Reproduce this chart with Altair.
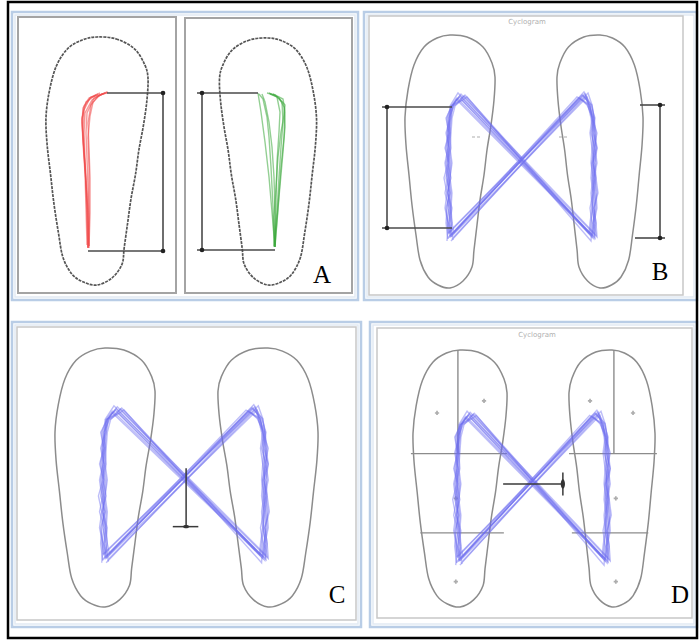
import altair as alt
import pandas as pd

# ---------------------------------------------------------------------------
# Canvas (pixel-like data space)
W, H = 700, 641

# Foot outline template: left foot, medial side toward +x, 90 wide x 253 long,
# y measured downward from the toe tip.
FOOT_X = [0, 17, 33, 42, 45, 44, 41, 37, 34, 30, 27, 24, 22, 13, 0,
          -12, -22, -30, -34, -38, -41, -44, -45, -42, -36, -26, -13]
FOOT_Y = [0, 2, 12, 28, 42, 65, 90, 115, 140, 165, 190, 215, 232, 246, 253,
          250, 242, 225, 200, 170, 140, 110, 82, 55, 30, 12, 3]
TEMPLATE_W, TEMPLATE_H = 90.0, 253.0

# Foot placements: name, toe-centre x, toe y, width, length, mirrored (right foot)
FEET = [
    ("A_left", 97, 37, 102, 248, False),
    ("A_right", 268, 38, 97, 247, True),
    ("B_left", 450, 35, 90, 253, False),
    ("B_right", 600, 35, 86, 253, True),
    ("C_left", 105, 348, 100, 259, False),
    ("C_right", 268, 348, 100, 259, True),
    ("D_left", 460, 350, 94, 257, False),
    ("D_right", 612, 350, 86, 257, True),
]

# Plantar zone boundaries for panel D (template units)
ZONE_ROWS_Y = [102, 180]
ZONE_ROWS_X0 = [-47, -38]
ZONE_ROWS_X1 = [45, 42]
ZONE_SPLIT_X = -2          # longitudinal split in the forefoot
ZONE_DOT_X = [-22, 23, -4, -4]
ZONE_DOT_Y = [62, 50, 146, 228]

# Local measurement frames: centre x, centre y, x scale, y scale (y up)
FRAMES = {
    "A_left": (88, 248, 1.0, 1.0),
    "A_right": (275, 247, 1.0, 1.0),
    "B": (522, 163, 1.0, 1.0),
    "C": (185, 480, 1.11, 1.06),
    "D": (533, 484, 1.03, 1.04),
}

# Centre-of-pressure butterfly, origin at the crossing point.
# Each cycle: left heel, left stance samples, left toe-off, right heel,
# right stance samples, right toe-off, next left heel.
STANCE_Y_L = [-60, -45, -30, -15, 0, 15, 30, 45, 57]
STANCE_Y_R = [-60, -45, -30, -15, 0, 15, 30, 45, 58]

LEFT_HEEL = [(-71, -74), (-69, -77), (-73, -71), (-72, -69), (-74, -76),
             (-70, -72), (-75, -78), (-68, -70), (-72, -75), (-71, -73)]
LEFT_STANCE_X = [
    [-73, -72, -74, -73, -75, -72, -74, -71, -70],
    [-71, -74, -72, -76, -73, -74, -72, -73, -69],
    [-75, -73, -77, -74, -76, -73, -75, -72, -71],
    [-70, -72, -71, -73, -72, -75, -73, -74, -70],
    [-76, -75, -73, -75, -77, -74, -72, -73, -68],
    [-72, -70, -74, -72, -71, -73, -76, -72, -72],
    [-74, -77, -75, -78, -74, -76, -74, -75, -71],
    [-70, -71, -70, -72, -70, -72, -71, -70, -67],
    [-74, -76, -72, -74, -73, -77, -73, -76, -70],
    [-73, -71, -75, -71, -74, -71, -72, -71, -69],
]
LEFT_TOE = [(-63, 66), (-58, 67), (-66, 64), (-61, 69), (-55, 66),
            (-64, 70), (-60, 63), (-57, 68), (-62, 67), (-65, 65)]
RIGHT_HEEL = [(70, -74), (72, -76), (68, -71), (74, -72), (69, -78),
              (71, -73), (73, -75), (67, -70), (75, -74), (70, -72)]
RIGHT_STANCE_X = [
    [71, 73, 72, 70, 72, 71, 73, 70, 68],
    [74, 72, 75, 73, 71, 74, 72, 71, 67],
    [69, 71, 70, 73, 72, 70, 71, 69, 66],
    [72, 75, 74, 72, 75, 73, 74, 72, 70],
    [70, 68, 71, 69, 70, 72, 70, 71, 65],
    [73, 70, 72, 74, 71, 75, 71, 73, 69],
    [71, 74, 73, 71, 74, 72, 75, 70, 68],
    [68, 70, 69, 71, 69, 70, 68, 70, 66],
    [74, 72, 76, 74, 73, 75, 73, 72, 70],
    [72, 71, 71, 72, 70, 73, 69, 72, 67],
]
RIGHT_TOE = [(61, 68), (64, 67), (57, 65), (66, 70), (59, 64),
             (62, 71), (55, 66), (63, 69), (60, 68), (65, 66)]
NEXT_HEEL = [(-72, -73), (-70, -76), (-73, -70), (-74, -70), (-71, -78),
             (-69, -71), (-75, -76), (-68, -69), (-72, -74), (-71, -74)]

# Single-foot COP traces (panel A), origin at heel contact, y up
LEFT_TRACES_X = [
    [0, -1, -2, -3, -4, -3, 4, 14, 19],
    [1, 0, -2, -4, -5, -4, 2, 12],
    [0, 1, 0, -1, -2, -1, 6, 17],
    [-1, -2, -3, -5, -6, -5, 3, 15],
    [1, 2, 2, 1, 0, 3, 10, 19],
    [0, -1, -3, -5, -6, -2, 8],
    [0, 0, -1, -3, -5, -6, -4, 1, 10],
    [1, 1, 1, 0, 2, 5, 12, 20],
]
LEFT_TRACES_Y = [
    [0, 30, 60, 90, 115, 135, 148, 154, 155],
    [2, 35, 65, 95, 120, 138, 150, 155],
    [0, 30, 60, 90, 115, 135, 150, 155],
    [3, 40, 75, 105, 125, 140, 151, 154],
    [0, 35, 70, 100, 125, 143, 152, 156],
    [1, 45, 80, 110, 130, 146, 153],
    [0, 25, 55, 85, 110, 128, 142, 150, 154],
    [2, 40, 80, 110, 132, 146, 153, 156],
]
RIGHT_TRACES_X = [
    [0, -3, -6, -10, -14, -17],
    [0, 0, -1, -3, -6, -10, -13],
    [-1, 2, 4, 6, 8, 7, 0, -8],
    [0, 3, 6, 9, 10, 8, -2],
    [0, 1, 2, 4, 5, 2, -6],
    [-1, -2, -4, -6, -8, -12, -16],
    [0, 4, 8, 10, 9, 4],
    [0, -1, 1, 3, 6, 9, 10, 3, -5],
]
RIGHT_TRACES_Y = [
    [0, 35, 70, 105, 135, 154],
    [1, 35, 70, 100, 125, 145, 153],
    [0, 35, 70, 100, 125, 145, 152, 154],
    [2, 40, 80, 110, 135, 148, 153],
    [0, 45, 85, 115, 135, 150, 154],
    [1, 40, 80, 110, 130, 148, 153],
    [0, 50, 95, 120, 140, 149],
    [0, 30, 60, 90, 115, 132, 142, 150, 153],
]

# Length brackets (local frame): frame, bracket x, y top, y bottom,
# inner x at top, inner x at bottom, outer x
BRACKETS = [
    ("A_left", 75, 155, -3, 19, 0, 75),
    ("A_right", -73, 154, -3, -17, 0, -78),
    ("B", -135, 56, -65, -70, -70, -140),
    ("B", 138, 58, -75, 118, 113, 143),
]

# Faint reference ticks in panel B (local frame)
B_TICK_X0 = [-50, 37]
B_TICK_X1 = [-40, 47]
B_TICK_Y = [26, 26]

# Progression markers in panels C and D (local frame)
C_MARK_X, C_MARK_Y0, C_MARK_Y1, C_BAR_X0, C_BAR_X1 = 1, 11, -44, -11, 12
D_MARK_Y, D_MARK_X0, D_MARK_X1, D_BAR_Y0, D_BAR_Y1 = 0, -29, 29, 11, -11

PANEL_LABELS = ["A", "B", "C", "D"]
PANEL_LABEL_X = [322, 660, 337, 680]
PANEL_LABEL_Y = [283, 280, 603, 603]

# ---------------------------------------------------------------------------
def place(frame, xs, ys):
    cx, cy, sx, sy = FRAMES[frame]
    return [cx + sx * x for x in xs], [cy - sy * y for y in ys]


def foot_points(cx, top, w, h, mirror, xs, ys):
    sx, sy = w / TEMPLATE_W, h / TEMPLATE_H
    sgn = -1 if mirror else 1
    return [cx + sgn * sx * x for x in xs], [top + sy * y for y in ys]


X = alt.X("x:Q", scale=alt.Scale(domain=[0, W], nice=False, zero=False), axis=None)
Y = alt.Y("y:Q", scale=alt.Scale(domain=[0, H], nice=False, zero=False, reverse=True), axis=None)
X2 = alt.X2("x2:Q")
Y2 = alt.Y2("y2:Q")

# Foot outlines
rows = []
for name, cx, top, w, h, mirror in FEET:
    xs, ys = foot_points(cx, top, w, h, mirror, FOOT_X, FOOT_Y)
    for i, (x, y) in enumerate(zip(xs, ys)):
        rows.append({"x": x, "y": y, "path": name, "ord": i, "panel": name[0]})
feet = pd.DataFrame(rows)

feet_a = alt.Chart(feet[feet.panel == "A"]).mark_line(
    interpolate="cardinal-closed", color="#555555", strokeWidth=1.7, strokeDash=[3, 1]
).encode(x=X, y=Y, detail="path:N", order="ord:Q")
feet_bcd = alt.Chart(feet[feet.panel != "A"]).mark_line(
    interpolate="cardinal-closed", color="#8c8c8c", strokeWidth=1.5
).encode(x=X, y=Y, detail="path:N", order="ord:Q")

# Panel D zones
zone_rows, dot_rows = [], []
for name, cx, top, w, h, mirror in FEET:
    if not name.startswith("D"):
        continue
    for zy, x0, x1 in zip(ZONE_ROWS_Y, ZONE_ROWS_X0, ZONE_ROWS_X1):
        xs, ys = foot_points(cx, top, w, h, mirror, [x0, x1], [zy, zy])
        zone_rows.append({"x": xs[0], "y": ys[0], "x2": xs[1], "y2": ys[1]})
    xs, ys = foot_points(cx, top, w, h, mirror, [ZONE_SPLIT_X, ZONE_SPLIT_X], [0, ZONE_ROWS_Y[0]])
    zone_rows.append({"x": xs[0], "y": ys[0], "x2": xs[1], "y2": ys[1]})
    xs, ys = foot_points(cx, top, w, h, mirror, ZONE_DOT_X, ZONE_DOT_Y)
    for x, y in zip(xs, ys):
        dot_rows.append({"x": x, "y": y})
zones = alt.Chart(pd.DataFrame(zone_rows)).mark_rule(color="#8c8c8c", strokeWidth=1.4).encode(
    x=X, y=Y, x2=X2, y2=Y2)
zone_dots = alt.Chart(pd.DataFrame(dot_rows)).mark_point(
    shape="cross", filled=True, color="#8a8a8a", size=18).encode(x=X, y=Y)

# Butterfly trajectories in B, C, D
cycles = []
for k in range(len(LEFT_HEEL)):
    pts = [LEFT_HEEL[k]]
    pts += list(zip(LEFT_STANCE_X[k], STANCE_Y_L))
    pts += [LEFT_TOE[k], RIGHT_HEEL[k]]
    pts += list(zip(RIGHT_STANCE_X[k], STANCE_Y_R))
    pts += [RIGHT_TOE[k], NEXT_HEEL[k]]
    cycles.append(pts)

rows = []
for frame in ["B", "C", "D"]:
    for k, pts in enumerate(cycles):
        xs, ys = place(frame, [p[0] for p in pts], [p[1] for p in pts])
        for i, (x, y) in enumerate(zip(xs, ys)):
            rows.append({"x": x, "y": y, "path": f"{frame}{k}", "ord": i})
traj = alt.Chart(pd.DataFrame(rows)).mark_line(
    color="#6c6cf0", strokeWidth=1.4, opacity=0.45).encode(
    x=X, y=Y, detail="path:N", order="ord:Q")


# Single-foot traces in A
def trace_df(frame, txs, tys):
    out = []
    for k, (cxs, cys) in enumerate(zip(txs, tys)):
        xs, ys = place(frame, cxs, cys)
        for i, (x, y) in enumerate(zip(xs, ys)):
            out.append({"x": x, "y": y, "path": f"{frame}{k}", "ord": i})
    return pd.DataFrame(out)


red = alt.Chart(trace_df("A_left", LEFT_TRACES_X, LEFT_TRACES_Y)).mark_line(
    color="#f04848", strokeWidth=1.4, opacity=0.55).encode(
    x=X, y=Y, detail="path:N", order="ord:Q")
green = alt.Chart(trace_df("A_right", RIGHT_TRACES_X, RIGHT_TRACES_Y)).mark_line(
    color="#3aa83a", strokeWidth=1.4, opacity=0.55).encode(
    x=X, y=Y, detail="path:N", order="ord:Q")

# Length brackets
seg_rows, end_rows = [], []
for frame, bx, yt, yb, xt, xb, xo in BRACKETS:
    (x1, x2), (y1, y2) = place(frame, [bx, bx], [yt, yb])
    seg_rows.append({"x": x1, "y": y1, "x2": x2, "y2": y2})
    (xa, xb2), (ya, yb2) = place(frame, [xt, xo], [yt, yt])
    seg_rows.append({"x": xa, "y": ya, "x2": xb2, "y2": yb2})
    (xa, xb2), (ya, yb2) = place(frame, [xb, xo], [yb, yb])
    seg_rows.append({"x": xa, "y": ya, "x2": xb2, "y2": yb2})
    end_rows.append({"x": x1, "y": y1})
    end_rows.append({"x": x2, "y": y2})
brackets = alt.Chart(pd.DataFrame(seg_rows)).mark_rule(color="#4a4a4a", strokeWidth=1.6).encode(
    x=X, y=Y, x2=X2, y2=Y2)
bracket_ends = alt.Chart(pd.DataFrame(end_rows)).mark_circle(color="#222222", size=22, opacity=1).encode(
    x=X, y=Y)

tx0, ty0 = place("B", B_TICK_X0, B_TICK_Y)
tx1, ty1 = place("B", B_TICK_X1, B_TICK_Y)
b_ticks = alt.Chart(pd.DataFrame({"x": tx0, "y": ty0, "x2": tx1, "y2": ty1})).mark_rule(
    color="#9a9a9a", strokeWidth=1, strokeDash=[3, 2], opacity=0.8).encode(x=X, y=Y, x2=X2, y2=Y2)

# Progression markers
mk = []
(xa, xb), (ya, yb) = place("C", [C_MARK_X, C_MARK_X], [C_MARK_Y0, C_MARK_Y1])
mk.append({"x": xa, "y": ya, "x2": xb, "y2": yb})
(xa, xb), (ya, yb) = place("C", [C_BAR_X0, C_BAR_X1], [C_MARK_Y1, C_MARK_Y1])
mk.append({"x": xa, "y": ya, "x2": xb, "y2": yb})
(xa, xb), (ya, yb) = place("D", [D_MARK_X0, D_MARK_X1], [D_MARK_Y, D_MARK_Y])
mk.append({"x": xa, "y": ya, "x2": xb, "y2": yb})
(xa, xb), (ya, yb) = place("D", [D_MARK_X1, D_MARK_X1], [D_BAR_Y0, D_BAR_Y1])
mk.append({"x": xa, "y": ya, "x2": xb, "y2": yb})
markers = alt.Chart(pd.DataFrame(mk)).mark_rule(color="#3a3a3a", strokeWidth=1.5).encode(
    x=X, y=Y, x2=X2, y2=Y2)
cx_, cy_ = place("C", [C_MARK_X], [C_MARK_Y1])
dx_, dy_ = place("D", [D_MARK_X1], [D_MARK_Y])
c_blob = alt.Chart(pd.DataFrame({"x": cx_, "y": cy_})).mark_point(
    shape="M -1 0 A 1 0.5 0 1 0 1 0 A 1 0.5 0 1 0 -1 0 Z", filled=True, color="#333333",
    size=40, opacity=1).encode(x=X, y=Y)
d_blob = alt.Chart(pd.DataFrame({"x": dx_, "y": dy_})).mark_point(
    shape="M 0 -1 A 0.45 1 0 1 0 0 1 A 0.45 1 0 1 0 0 -1 Z", filled=True, color="#333333",
    size=90, opacity=1).encode(x=X, y=Y)

# Panel frames
outer = pd.DataFrame({"x": [8], "x2": [697], "y": [2], "y2": [638]})
blue_frames = pd.DataFrame({"x": [12, 364, 12, 370], "x2": [358, 697, 361, 697],
                            "y": [12, 12, 322, 322], "y2": [300, 300, 627, 627]})
blue_inner = pd.DataFrame({"x": [15, 367, 15, 373], "x2": [355, 694, 358, 694],
                           "y": [15, 15, 325, 325], "y2": [297, 297, 624, 624]})
box_a = pd.DataFrame({"x": [18, 185], "x2": [176, 352], "y": [17, 18], "y2": [293, 293]})
box_bcd = pd.DataFrame({"x": [369, 17, 377], "x2": [683, 356, 692],
                        "y": [16, 327, 328], "y2": [295, 620, 618]})

frame_outer = alt.Chart(outer).mark_rect(fillOpacity=0, stroke="#000000", strokeWidth=2.5).encode(
    x=X, x2=X2, y=Y, y2=Y2)
frame_blue = alt.Chart(blue_frames).mark_rect(fillOpacity=0, stroke="#b9cde6", strokeWidth=2.5).encode(
    x=X, x2=X2, y=Y, y2=Y2)
frame_blue_in = alt.Chart(blue_inner).mark_rect(fillOpacity=0, stroke="#e2eaf4", strokeWidth=1.5).encode(
    x=X, x2=X2, y=Y, y2=Y2)
frame_a = alt.Chart(box_a).mark_rect(fillOpacity=0, stroke="#a4a4a4", strokeWidth=2).encode(
    x=X, x2=X2, y=Y, y2=Y2)
frame_bcd = alt.Chart(box_bcd).mark_rect(fillOpacity=0, stroke="#c8c8c8", strokeWidth=1.5).encode(
    x=X, x2=X2, y=Y, y2=Y2)

labels = alt.Chart(pd.DataFrame({"x": PANEL_LABEL_X, "y": PANEL_LABEL_Y, "t": PANEL_LABELS})).mark_text(
    font="Liberation Serif", fontSize=25, color="#000000", align="center", baseline="alphabetic"
).encode(x=X, y=Y, text="t:N")

titles = alt.Chart(pd.DataFrame({"x": [527, 537], "y": [22, 335], "t": ["Cyclogram", "Cyclogram"]})).mark_text(
    font="DejaVu Sans", fontSize=7, color="#b0b0b0", align="center", baseline="middle"
).encode(x=X, y=Y, text="t:N")

chart = alt.layer(
    frame_blue, frame_blue_in, frame_a, frame_bcd, frame_outer,
    feet_a, feet_bcd, zones, zone_dots, b_ticks,
    traj, red, green,
    brackets, bracket_ends, markers, c_blob, d_blob,
    labels, titles,
).properties(
    width=W, height=H, padding=0, autosize=alt.AutoSizeParams(type="none"),
    background="white",
).configure_view(stroke=None)

chart.save("out.html", embed_options={"renderer": "svg", "actions": False})
